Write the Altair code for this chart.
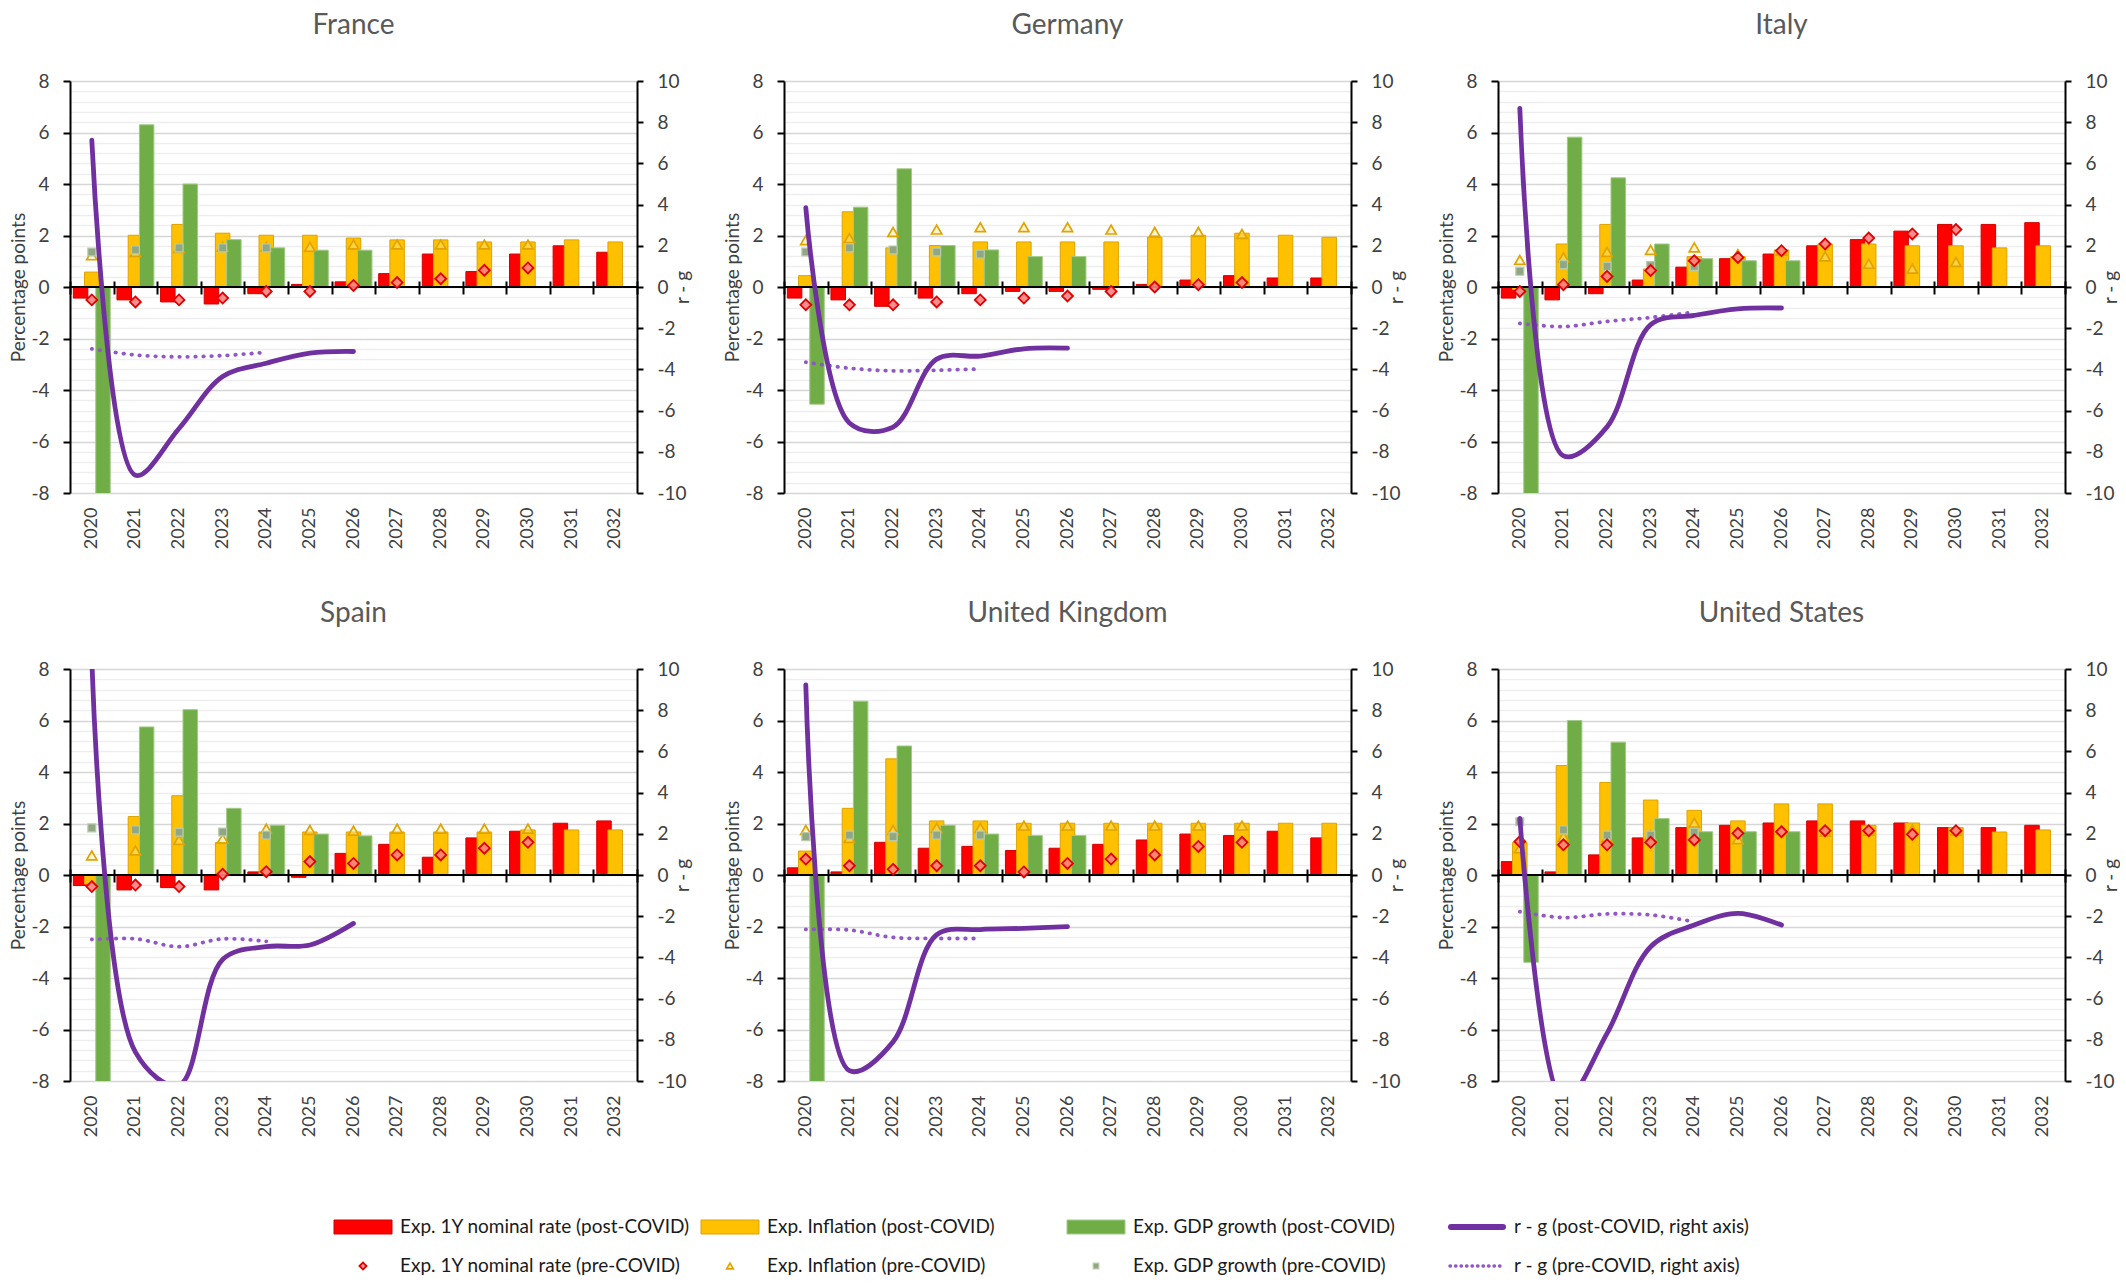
import altair as alt
import pandas as pd

# ---------------------------------------------------------------------------
# Data: expected paths 2020-2032, post-COVID (bars, solid line) vs pre-COVID
# (markers, dotted line).  r - g is read on the right-hand axis.
# ---------------------------------------------------------------------------
YEARS = [str(y) for y in range(2020, 2033)]

# France
FR_RATE = [-0.43, -0.5, -0.58, -0.66, -0.26, 0.1, 0.2, 0.52, 1.28, 0.6, 1.28, 1.6, 1.35]
FR_INFL = [0.58, 2.01, 2.43, 2.09, 2.01, 2.01, 1.9, 1.83, 1.83, 1.75, 1.75, 1.83, 1.75]
FR_GDP = [-8.2, 6.3, 4.0, 1.84, 1.52, 1.43, 1.43]
FR_RATE_PRE = [-0.5, -0.58, -0.5, -0.43, -0.17, -0.17, 0.06, 0.17, 0.32, 0.65, 0.74]
FR_INFL_PRE = [1.23, 1.36, 1.52, 1.56, 1.56, 1.56, 1.65, 1.65, 1.65, 1.65, 1.65]
FR_GDP_PRE = [1.36, 1.44, 1.52, 1.52, 1.52]
FR_RG = [7.13, -9.14, -6.87, -4.35, -3.7, -3.21, -3.13]
FR_RG_PRE = [-3.0, -3.3, -3.39, -3.33, -3.17]

# Germany
DE_RATE = [-0.43, -0.5, -0.75, -0.43, -0.26, -0.17, -0.17, -0.09, 0.1, 0.27, 0.44, 0.35, 0.35]
DE_INFL = [0.44, 2.92, 1.52, 1.61, 1.75, 1.75, 1.75, 1.75, 1.93, 2.01, 2.09, 2.01, 1.93]
DE_GDP = [-4.55, 3.1, 4.59, 1.61, 1.44, 1.18, 1.18]
DE_RATE_PRE = [-0.69, -0.69, -0.69, -0.58, -0.5, -0.43, -0.35, -0.17, 0.0, 0.09, 0.17]
DE_INFL_PRE = [1.82, 1.9, 2.14, 2.23, 2.32, 2.32, 2.32, 2.23, 2.14, 2.14, 2.06]
DE_GDP_PRE = [1.36, 1.52, 1.44, 1.36, 1.28]
DE_RG = [3.85, -6.6, -6.8, -3.5, -3.35, -3.0, -2.97]
DE_RG_PRE = [-3.65, -3.94, -4.07, -4.04, -3.98]

# Italy
IT_RATE = [-0.43, -0.5, -0.26, 0.27, 0.77, 1.1, 1.28, 1.6, 1.84, 2.17, 2.43, 2.43, 2.5]
IT_INFL = [-0.1, 1.67, 2.43, 0.7, 1.18, 1.18, 1.44, 1.67, 1.67, 1.6, 1.6, 1.52, 1.6]
IT_GDP = [-8.9, 5.82, 4.24, 1.67, 1.1, 1.02, 1.02]
IT_RATE_PRE = [-0.17, 0.09, 0.41, 0.64, 1.02, 1.15, 1.41, 1.67, 1.9, 2.06, 2.23]
IT_INFL_PRE = [1.05, 1.15, 1.36, 1.44, 1.54, 1.28, 1.41, 1.19, 0.9, 0.71, 0.97]
IT_GDP_PRE = [0.61, 0.87, 0.8, 0.83, 0.8]
IT_RG = [8.67, -8.2, -6.79, -1.83, -1.38, -1.06, -1.02]
IT_RG_PRE = [-1.77, -1.92, -1.67, -1.48, -1.22]

# Spain
ES_RATE = [-0.41, -0.58, -0.49, -0.58, 0.12, -0.09, 0.84, 1.19, 0.69, 1.44, 1.7, 2.01, 2.1]
ES_INFL = [-0.35, 2.27, 3.08, 1.26, 1.67, 1.67, 1.67, 1.67, 1.67, 1.67, 1.75, 1.75, 1.75]
ES_GDP = [-11.0, 5.75, 6.42, 2.59, 1.93, 1.59, 1.52]
ES_RATE_PRE = [-0.45, -0.39, -0.45, 0.03, 0.13, 0.52, 0.45, 0.78, 0.78, 1.04, 1.27]
ES_INFL_PRE = [0.76, 0.95, 1.36, 1.41, 1.8, 1.75, 1.72, 1.8, 1.8, 1.8, 1.8]
ES_GDP_PRE = [1.83, 1.75, 1.66, 1.67, 1.55]
ES_RG = [10.5, -8.6, -10.2, -4.1, -3.48, -3.4, -2.35]
ES_RG_PRE = [-3.13, -3.1, -3.48, -3.1, -3.22]

# United Kingdom
UK_RATE = [0.28, 0.12, 1.27, 1.04, 1.11, 0.95, 1.04, 1.19, 1.36, 1.59, 1.53, 1.7, 1.44]
UK_INFL = [0.93, 2.59, 4.51, 2.1, 2.1, 2.01, 2.01, 2.01, 2.01, 2.01, 2.01, 2.01, 2.01]
UK_GDP = [-9.9, 6.75, 5.01, 1.93, 1.59, 1.53, 1.53]
UK_RATE_PRE = [0.62, 0.36, 0.22, 0.36, 0.36, 0.12, 0.45, 0.62, 0.78, 1.11, 1.27]
UK_INFL_PRE = [1.75, 1.44, 1.75, 1.83, 1.83, 1.92, 1.92, 1.92, 1.92, 1.92, 1.92]
UK_GDP_PRE = [1.49, 1.55, 1.49, 1.55, 1.55]
UK_RG = [9.23, -9.5, -8.1, -2.9, -2.65, -2.59, -2.51]
UK_RG_PRE = [-2.64, -2.67, -3.03, -3.08, -3.08]

# United States
US_RATE = [0.52, 0.12, 0.78, 1.44, 1.84, 1.93, 2.02, 2.1, 2.1, 2.02, 1.84, 1.84, 1.93]
US_INFL = [1.26, 4.25, 3.59, 2.91, 2.51, 2.1, 2.76, 2.76, 1.93, 2.02, 1.84, 1.67, 1.75]
US_GDP = [-3.39, 6.0, 5.16, 2.19, 1.68, 1.68, 1.68]
US_RATE_PRE = [1.3, 1.17, 1.17, 1.27, 1.36, 1.62, 1.68, 1.72, 1.72, 1.58, 1.72]
US_INFL_PRE = [1.04, 1.49, 1.46, 1.55, 2.03, 1.39, 1.75, 1.68, 1.72, 1.77, 1.72]
US_GDP_PRE = [2.07, 1.75, 1.55, 1.55, 1.66]
US_RG = [2.75, -11.0, -7.69, -3.48, -2.43, -1.86, -2.43]
US_RG_PRE = [-1.78, -2.07, -1.89, -1.94, -2.27]

SERIES = [
    "Exp. 1Y nominal rate (post-COVID)",
    "Exp. Inflation (post-COVID)",
    "Exp. GDP growth (post-COVID)",
]
PRE_LABELS = [
    "Exp. 1Y nominal rate (pre-COVID)",
    "Exp. Inflation (pre-COVID)",
    "Exp. GDP growth (pre-COVID)",
]
LINE_LABELS = ["r - g (post-COVID, right axis)", "r - g (pre-COVID, right axis)"]

# ---------------------------------------------------------------------------
# Styling
# ---------------------------------------------------------------------------
FONT = "Lato"
FILL = ["#FF0000", "#FFC000", "#70AD47"]
EDGE = ["#D40000", "#DDA300", "#A3C98A"]
PURPLE = "#7030A0"
PURPLE_DOT = "#9157C8"
LABEL = "#404040"
TITLE = "#595959"
W, H = 567, 412

DIAMOND = dict(shape="diamond", fill="#FF8080", stroke="#E00000", strokeWidth=1.8, fillOpacity=0.9)
TRIANGLE = dict(shape="triangle-up", fill="#FFE699", stroke="#E0A400", strokeWidth=1.7, fillOpacity=0.45)
SQUARE = dict(shape="square", fill="#8FA784", stroke="#B7CBAA", strokeWidth=1.2, fillOpacity=1)

x_scale = alt.Scale(domain=YEARS, paddingInner=0, paddingOuter=0)
left_scale = alt.Scale(domain=[-8, 8], nice=False)
right_scale = alt.Scale(domain=[-10, 10], nice=False)

GRID_VALUES = [round(-8 + 0.4 * i, 1) for i in range(41)]
IS_MAJOR = "abs(datum.value % 2) < 0.01"

left_axis = alt.Axis(
    orient="left", values=GRID_VALUES, grid=True, gridWidth=1.5,
    gridColor={"condition": {"test": IS_MAJOR, "value": "#D6D6D6"}, "value": "#EEEEEE"},
    tickColor={"condition": {"test": IS_MAJOR, "value": "black"}, "value": "transparent"},
    labelExpr=f"{IS_MAJOR} ? '' + round(datum.value) : ''",
    labelOverlap=False, tickSize=7, tickWidth=2, domainColor="black", domainWidth=2,
    labelPadding=14, labelFontSize=19, labelColor=LABEL,
    titleFontSize=19, titleColor=LABEL, titleFontWeight="normal",
    minExtent=40, maxExtent=40, titlePadding=2,
)
right_axis = alt.Axis(
    orient="right", values=list(range(-10, 11, 2)), grid=False,
    labelExpr="'' + datum.value", labelOverlap=False,
    tickSize=6, tickWidth=2, tickColor="black", domainColor="black", domainWidth=2,
    labelPadding=14, labelFontSize=19, labelColor=LABEL,
    titleFontSize=19, titleColor=LABEL, titleFontWeight="normal",
    titleAngle=270, titleBaseline="top",
    minExtent=36, maxExtent=36, titlePadding=0,
)
year_axis = alt.Axis(
    orient="bottom", labelAngle=-90, ticks=False, domain=False, grid=False,
    labelPadding=14, labelFontSize=18, labelColor=LABEL, title=None,
)
# category separators crossing the zero line
cross_axis = alt.Axis(
    orient="bottom", labels=False, domain=False, grid=False, ticks=True,
    tickBand="extent", tickSize=13, tickWidth=2, tickColor="black",
    offset=-(H / 2 + 6), title=None, zindex=1,
)


def frame(values, series=None):
    df = pd.DataFrame({"year": YEARS[: len(values)], "value": values})
    if series is not None:
        df["series"] = series
    return df.dropna()


def panel(name, rate, infl, gdp, rate_pre, infl_pre, gdp_pre, rg, rg_pre):
    bar_df = pd.concat([frame(v, s) for v, s in zip((rate, infl, gdp), SERIES)], ignore_index=True)

    bars = alt.Chart(bar_df).mark_bar(width=14.5, clip=True, strokeWidth=1).encode(
        x=alt.X("year:N", scale=x_scale, axis=year_axis),
        xOffset=alt.XOffset("series:N", scale=alt.Scale(domain=SERIES, paddingInner=0, paddingOuter=0.446)),
        y=alt.Y("value:Q", scale=left_scale, axis=left_axis, title="Percentage points"),
        fill=alt.Fill("series:N", scale=alt.Scale(domain=SERIES, range=FILL), legend=None),
        stroke=alt.Stroke("series:N", scale=alt.Scale(domain=SERIES, range=EDGE), legend=None),
    )

    zero = alt.Chart(pd.DataFrame({"value": [0]})).mark_rule(color="black", strokeWidth=2).encode(
        y=alt.Y("value:Q", scale=left_scale, axis=None)
    )

    def markers(values, style, size, axis=None):
        return alt.Chart(frame(values)).mark_point(filled=True, size=size, clip=True, opacity=1, **style).encode(
            x=alt.X("year:N", scale=x_scale, axis=axis),
            y=alt.Y("value:Q", scale=left_scale, axis=None),
        )

    dia = markers(rate_pre, DIAMOND, 120, axis=cross_axis)
    tri = markers(infl_pre, TRIANGLE, 105)
    sq = markers(gdp_pre, SQUARE, 62)

    line_post = alt.Chart(frame(rg)).mark_line(
        color=PURPLE, strokeWidth=4.8, interpolate="catmull-rom", clip=True, strokeCap="round"
    ).encode(
        x=alt.X("year:N", scale=x_scale, axis=None),
        y=alt.Y("value:Q", scale=right_scale, axis=right_axis, title="r - g"),
    )
    line_pre = alt.Chart(frame(rg_pre)).mark_line(
        color=PURPLE_DOT, strokeWidth=3.8, strokeDash=[0.5, 7.5], strokeCap="round",
        interpolate="catmull-rom", clip=True,
    ).encode(
        x=alt.X("year:N", scale=x_scale, axis=None),
        y=alt.Y("value:Q", scale=right_scale, axis=None),
    )

    return (
        alt.layer(bars, zero, tri, sq, dia, line_pre, line_post)
        .resolve_scale(y="independent")
        .resolve_axis(x="independent")
        .properties(
            width=W, height=H,
            title=alt.TitleParams(name, fontSize=28, color=TITLE, fontWeight="normal", font=FONT, offset=32),
        )
    )


fr = panel("France", FR_RATE, FR_INFL, FR_GDP, FR_RATE_PRE, FR_INFL_PRE, FR_GDP_PRE, FR_RG, FR_RG_PRE)
de = panel("Germany", DE_RATE, DE_INFL, DE_GDP, DE_RATE_PRE, DE_INFL_PRE, DE_GDP_PRE, DE_RG, DE_RG_PRE)
it = panel("Italy", IT_RATE, IT_INFL, IT_GDP, IT_RATE_PRE, IT_INFL_PRE, IT_GDP_PRE, IT_RG, IT_RG_PRE)
es = panel("Spain", ES_RATE, ES_INFL, ES_GDP, ES_RATE_PRE, ES_INFL_PRE, ES_GDP_PRE, ES_RG, ES_RG_PRE)
uk = panel("United Kingdom", UK_RATE, UK_INFL, UK_GDP, UK_RATE_PRE, UK_INFL_PRE, UK_GDP_PRE, UK_RG, UK_RG_PRE)
us = panel("United States", US_RATE, US_INFL, US_GDP, US_RATE_PRE, US_INFL_PRE, US_GDP_PRE, US_RG, US_RG_PRE)

# ---------------------------------------------------------------------------
# Legend: two rows of four entries under the panels
# ---------------------------------------------------------------------------
one = pd.DataFrame({"k": [0]})
LEG_W, LEG_H = 1900, 92
COL_X = [264, 631, 997, 1378]
SYM_W = 58
ROW_Y = [39, 78]


def leg_text(label, x, y):
    return alt.Chart(one).mark_text(
        text=label, align="left", baseline="middle", font=FONT, fontSize=19, color="#1A1A1A"
    ).encode(x=alt.value(x), y=alt.value(y))


legend_layers = [
    alt.Chart(one).mark_rule(opacity=0).encode(x=alt.value(0), x2=alt.value(LEG_W), y=alt.value(0))
]
for i in range(3):
    x0 = COL_X[i]
    legend_layers.append(
        alt.Chart(one).mark_rect(fill=FILL[i], stroke=EDGE[i], strokeWidth=1).encode(
            x=alt.value(x0), x2=alt.value(x0 + SYM_W),
            y=alt.value(ROW_Y[0] - 7), y2=alt.value(ROW_Y[0] + 7),
        )
    )
    legend_layers.append(leg_text(SERIES[i], x0 + SYM_W + 8, ROW_Y[0]))

for i, (style, size) in enumerate([(DIAMOND, 50), (TRIANGLE, 45), (SQUARE, 32)]):
    x0 = COL_X[i]
    legend_layers.append(
        alt.Chart(one).mark_point(filled=True, size=size, opacity=1, **style).encode(
            x=alt.value(x0 + SYM_W / 2), y=alt.value(ROW_Y[1])
        )
    )
    legend_layers.append(leg_text(PRE_LABELS[i], x0 + SYM_W + 8, ROW_Y[1]))

x0 = COL_X[3]
legend_layers.append(
    alt.Chart(one).mark_rule(color=PURPLE, strokeWidth=6, strokeCap="round").encode(
        x=alt.value(x0 + 3), x2=alt.value(x0 + SYM_W - 3), y=alt.value(ROW_Y[0])
    )
)
legend_layers.append(leg_text(LINE_LABELS[0], x0 + SYM_W + 8, ROW_Y[0]))
legend_layers.append(
    alt.Chart(one).mark_rule(color=PURPLE_DOT, strokeWidth=3.4, strokeDash=[0.5, 5], strokeCap="round").encode(
        x=alt.value(x0 + 2), x2=alt.value(x0 + SYM_W - 2), y=alt.value(ROW_Y[1])
    )
)
legend_layers.append(leg_text(LINE_LABELS[1], x0 + SYM_W + 8, ROW_Y[1]))

legend = alt.layer(*legend_layers).properties(width=LEG_W, height=LEG_H)

chart = (
    alt.vconcat(
        alt.hconcat(fr, de, it, spacing=31),
        alt.hconcat(es, uk, us, spacing=31),
        legend,
        spacing=51,
    )
    .properties(padding={"left": 9, "top": 12, "right": 0, "bottom": 0}, background="white")
    .configure_view(stroke=None)
    .configure_axis(labelFont=FONT, titleFont=FONT)
    .configure_title(font=FONT)
)

chart.save("out.html", embed_options={"renderer": "svg", "actions": False})
